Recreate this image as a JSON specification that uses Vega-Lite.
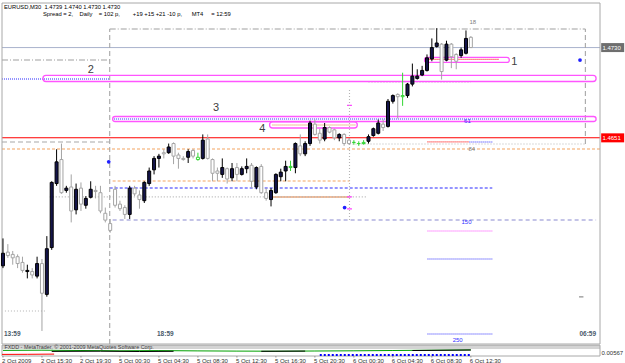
{
"$schema": "https://vega.github.io/schema/vega-lite/v6.json",
"background": "white",
"autosize": {"type": "fit", "contains": "padding"},
"padding": {"left": -3, "top": 2, "right": 0, "bottom": 0},
"width": 625,
"height": 363,
"config": {"view": {"stroke": null}, "font": "Liberation Sans"},
"datasets": {
"bars": [
{"i":0,"o":1.4539,"h":1.4563,"l":1.4537,"c":1.4550,"k":"up"},
{"i":1,"o":1.4551,"h":1.4558,"l":1.4546,"c":1.4548,"k":"dn"},
{"i":2,"o":1.4549,"h":1.4552,"l":1.4540,"c":1.4546,"k":"dn"},
{"i":3,"o":1.4547,"h":1.4549,"l":1.4537,"c":1.4541,"k":"dn"},
{"i":4,"o":1.4542,"h":1.4547,"l":1.4533,"c":1.4535,"k":"dn"},
{"i":5,"o":1.4534,"h":1.4540,"l":1.4528,"c":1.4535,"k":"up"},
{"i":6,"o":1.4534,"h":1.4537,"l":1.4528,"c":1.4531,"k":"dn"},
{"i":7,"o":1.4530,"h":1.4547,"l":1.4528,"c":1.4541,"k":"up"},
{"i":8,"o":1.4541,"h":1.4545,"l":1.4482,"c":1.4515,"k":"dn"},
{"i":9,"o":1.4514,"h":1.4565,"l":1.4512,"c":1.4554,"k":"up"},
{"i":10,"o":1.4555,"h":1.4613,"l":1.4553,"c":1.4612,"k":"up"},
{"i":11,"o":1.4611,"h":1.4641,"l":1.4609,"c":1.4630,"k":"up"},
{"i":12,"o":1.4632,"h":1.4646,"l":1.4602,"c":1.4603,"k":"dn"},
{"i":13,"o":1.4605,"h":1.4609,"l":1.4603,"c":1.4607,"k":"up"},
{"i":14,"o":1.4608,"h":1.4619,"l":1.4577,"c":1.4587,"k":"dn"},
{"i":15,"o":1.4588,"h":1.4611,"l":1.4584,"c":1.4606,"k":"up"},
{"i":16,"o":1.4607,"h":1.4612,"l":1.4587,"c":1.4593,"k":"dn"},
{"i":17,"o":1.4592,"h":1.4600,"l":1.4589,"c":1.4598,"k":"up"},
{"i":18,"o":1.4599,"h":1.4613,"l":1.4598,"c":1.4606,"k":"up"},
{"i":19,"o":1.4605,"h":1.4609,"l":1.4598,"c":1.4604,"k":"dn"},
{"i":20,"o":1.4603,"h":1.4609,"l":1.4585,"c":1.4587,"k":"dn"},
{"i":21,"o":1.4585,"h":1.4590,"l":1.4577,"c":1.4579,"k":"dn"},
{"i":22,"o":1.4576,"h":1.4580,"l":1.4568,"c":1.4570,"k":"dn"},
{"i":23,"o":1.4606,"h":1.4609,"l":1.4590,"c":1.4592,"k":"dn"},
{"i":24,"o":1.4593,"h":1.4596,"l":1.4587,"c":1.4589,"k":"dn"},
{"i":25,"o":1.4590,"h":1.4592,"l":1.4580,"c":1.4584,"k":"dn"},
{"i":26,"o":1.4584,"h":1.4609,"l":1.4580,"c":1.4607,"k":"up"},
{"i":27,"o":1.4607,"h":1.4609,"l":1.4600,"c":1.4602,"k":"dn"},
{"i":28,"o":1.4601,"h":1.4605,"l":1.4589,"c":1.4597,"k":"dn"},
{"i":29,"o":1.4596,"h":1.4613,"l":1.4594,"c":1.4612,"k":"up"},
{"i":30,"o":1.4611,"h":1.4625,"l":1.4609,"c":1.4622,"k":"up"},
{"i":31,"o":1.4623,"h":1.4635,"l":1.4619,"c":1.4633,"k":"up"},
{"i":32,"o":1.4633,"h":1.4637,"l":1.4625,"c":1.4635,"k":"up"},
{"i":33,"o":1.4638,"h":1.4641,"l":1.4633,"c":1.4637,"k":"dn"},
{"i":34,"o":1.4638,"h":1.4646,"l":1.4637,"c":1.4643,"k":"up"},
{"i":35,"o":1.4646,"h":1.4647,"l":1.4628,"c":1.4635,"k":"dn"},
{"i":36,"o":1.4636,"h":1.4638,"l":1.4624,"c":1.4633,"k":"dn"},
{"i":37,"o":1.4633,"h":1.4635,"l":1.4631,"c":1.4632,"k":"dn"},
{"i":38,"o":1.4634,"h":1.4641,"l":1.4629,"c":1.4639,"k":"up"},
{"i":39,"o":1.4640,"h":1.4641,"l":1.4633,"c":1.4635,"k":"dn"},
{"i":40,"o":1.4634,"h":1.4638,"l":1.4631,"c":1.4632,"k":"mk"},
{"i":41,"o":1.4633,"h":1.4654,"l":1.4632,"c":1.4649,"k":"up"},
{"i":42,"o":1.4650,"h":1.4654,"l":1.4632,"c":1.4633,"k":"dn"},
{"i":43,"o":1.4632,"h":1.4633,"l":1.4613,"c":1.4620,"k":"dn"},
{"i":44,"o":1.4622,"h":1.4625,"l":1.4613,"c":1.4620,"k":"dn"},
{"i":45,"o":1.4619,"h":1.4633,"l":1.4616,"c":1.4625,"k":"up"},
{"i":46,"o":1.4624,"h":1.4625,"l":1.4611,"c":1.4615,"k":"dn"},
{"i":47,"o":1.4616,"h":1.4629,"l":1.4613,"c":1.4624,"k":"up"},
{"i":48,"o":1.4625,"h":1.4629,"l":1.4613,"c":1.4619,"k":"dn"},
{"i":49,"o":1.4619,"h":1.4626,"l":1.4618,"c":1.4624,"k":"up"},
{"i":50,"o":1.4624,"h":1.4633,"l":1.4620,"c":1.4626,"k":"up"},
{"i":51,"o":1.4627,"h":1.4629,"l":1.4607,"c":1.4613,"k":"dn"},
{"i":52,"o":1.4608,"h":1.4626,"l":1.4606,"c":1.4625,"k":"up"},
{"i":53,"o":1.4626,"h":1.4628,"l":1.4602,"c":1.4603,"k":"dn"},
{"i":54,"o":1.4603,"h":1.4607,"l":1.4596,"c":1.4598,"k":"dn"},
{"i":55,"o":1.4597,"h":1.4607,"l":1.4591,"c":1.4605,"k":"up"},
{"i":56,"o":1.4603,"h":1.4620,"l":1.4602,"c":1.4619,"k":"up"},
{"i":57,"o":1.4617,"h":1.4624,"l":1.4613,"c":1.4621,"k":"up"},
{"i":58,"o":1.4622,"h":1.4631,"l":1.4613,"c":1.4626,"k":"up"},
{"i":59,"o":1.4626,"h":1.4631,"l":1.4622,"c":1.4625,"k":"mk"},
{"i":60,"o":1.4625,"h":1.4647,"l":1.4620,"c":1.4646,"k":"up"},
{"i":61,"o":1.4644,"h":1.4654,"l":1.4635,"c":1.4637,"k":"dn"},
{"i":62,"o":1.4637,"h":1.4648,"l":1.4635,"c":1.4646,"k":"up"},
{"i":63,"o":1.4646,"h":1.4666,"l":1.4644,"c":1.4664,"k":"up"},
{"i":64,"o":1.4663,"h":1.4667,"l":1.4653,"c":1.4654,"k":"dn"},
{"i":65,"o":1.4655,"h":1.4659,"l":1.4646,"c":1.4649,"k":"dn"},
{"i":66,"o":1.4650,"h":1.4664,"l":1.4648,"c":1.4660,"k":"up"},
{"i":67,"o":1.4660,"h":1.4661,"l":1.4655,"c":1.4656,"k":"dn"},
{"i":68,"o":1.4658,"h":1.4659,"l":1.4649,"c":1.4651,"k":"dn"},
{"i":69,"o":1.4651,"h":1.4655,"l":1.4648,"c":1.4654,"k":"up"},
{"i":70,"o":1.4654,"h":1.4655,"l":1.4644,"c":1.4646,"k":"dn"},
{"i":71,"o":1.4649,"h":1.4651,"l":1.4645,"c":1.4646,"k":"dn"},
{"i":72,"o":1.4647,"h":1.4649,"l":1.4645,"c":1.4647,"k":"mk"},
{"i":73,"o":1.4646,"h":1.4648,"l":1.4644,"c":1.4646,"k":"mk"},
{"i":74,"o":1.4647,"h":1.4649,"l":1.4645,"c":1.4646,"k":"mk"},
{"i":75,"o":1.4648,"h":1.4654,"l":1.4646,"c":1.4652,"k":"up"},
{"i":76,"o":1.4653,"h":1.4660,"l":1.4652,"c":1.4659,"k":"up"},
{"i":77,"o":1.4655,"h":1.4667,"l":1.4654,"c":1.4664,"k":"up"},
{"i":78,"o":1.4663,"h":1.4667,"l":1.4657,"c":1.4660,"k":"dn"},
{"i":79,"o":1.4661,"h":1.4685,"l":1.4660,"c":1.4683,"k":"up"},
{"i":80,"o":1.4683,"h":1.4689,"l":1.4681,"c":1.4688,"k":"up"},
{"i":81,"o":1.4689,"h":1.4690,"l":1.4668,"c":1.4687,"k":"dn"},
{"i":82,"o":1.4688,"h":1.4708,"l":1.4679,"c":1.4687,"k":"mk"},
{"i":83,"o":1.4688,"h":1.4699,"l":1.4686,"c":1.4698,"k":"up"},
{"i":84,"o":1.4698,"h":1.4716,"l":1.4696,"c":1.4705,"k":"up"},
{"i":85,"o":1.4703,"h":1.4711,"l":1.4702,"c":1.4705,"k":"up"},
{"i":86,"o":1.4706,"h":1.4714,"l":1.4705,"c":1.4710,"k":"up"},
{"i":87,"o":1.4710,"h":1.4724,"l":1.4709,"c":1.4721,"k":"up"},
{"i":88,"o":1.4720,"h":1.4738,"l":1.4718,"c":1.4730,"k":"up"},
{"i":89,"o":1.4731,"h":1.4747,"l":1.4730,"c":1.4734,"k":"up"},
{"i":90,"o":1.4733,"h":1.4734,"l":1.4702,"c":1.4709,"k":"dn"},
{"i":91,"o":1.4719,"h":1.4736,"l":1.4718,"c":1.4733,"k":"up"},
{"i":92,"o":1.4733,"h":1.4734,"l":1.4712,"c":1.4722,"k":"dn"},
{"i":93,"o":1.4724,"h":1.4725,"l":1.4711,"c":1.4718,"k":"dn"},
{"i":94,"o":1.4723,"h":1.4730,"l":1.4721,"c":1.4728,"k":"up"},
{"i":95,"o":1.4725,"h":1.4745,"l":1.4724,"c":1.4738,"k":"up"},
{"i":96,"o":1.4739,"h":1.4740,"l":1.4730,"c":1.4730,"k":"dn"}
],
"hl": [
{"x1":-0.2,"x2":122.5,"y":1.4730,"lv":"bid"},
{"x1":-0.2,"x2":122.5,"y":1.4651,"lv":"red"},
{"x1":-0.2,"x2":122.5,"y":1.46413,"lv":"orange"},
{"x1":22.5,"x2":71.1,"y":1.46133,"lv":"orange"},
{"x1":55.1,"x2":71.1,"y":1.45993,"lv":"orangesolid"},
{"x1":55.3,"x2":72.3,"y":1.46623,"lv":"orangedot"},
{"x1":-0.2,"x2":21.9,"y":1.47025,"lv":"blue"},
{"x1":22.8,"x2":119.3,"y":1.46675,"lv":"blue"},
{"x1":21.9,"x2":100.4,"y":1.46071,"lv":"bluedash"},
{"x1":-0.2,"x2":21.9,"y":1.47191,"lv":"graydashdot"},
{"x1":21.9,"x2":119.5,"y":1.47463,"lv":"graydashdot"},
{"x1":-0.2,"x2":21.9,"y":1.46474,"lv":"graydash"},
{"x1":71.1,"x2":119.7,"y":1.46456,"lv":"graydot"},
{"x1":9.6,"x2":74.6,"y":1.45993,"lv":"graydot"},
{"x1":0.4,"x2":8.6,"y":1.44995,"lv":"graydot"},
{"x1":75,"x2":96,"y":1.46999,"lv":"graydot"},
{"x1":22.5,"x2":121.7,"y":1.45791,"lv":"fibo"},
{"x1":87.1,"x2":95.7,"y":1.46474,"lv":"reddot"},
{"x1":95.7,"x2":100.4,"y":1.46474,"lv":"blue"},
{"x1":87.1,"x2":101.8,"y":1.47196,"lv":"reddot"},
{"x1":87.1,"x2":100.4,"y":1.45695,"lv":"magdot"},
{"x1":87.1,"x2":100.4,"y":1.4545,"lv":"blue"},
{"x1":87.1,"x2":100.4,"y":1.44794,"lv":"blue"},
{"x1":70.6,"x2":71.6,"y":1.46794,"lv":"magtick"},
{"x1":70.6,"x2":71.6,"y":1.45993,"lv":"magtick"},
{"x1":70.6,"x2":71.6,"y":1.45888,"lv":"magtick"},
{"x1":118.2,"x2":119.1,"y":1.45118,"lv":"graysolid"}
],
"vl": [
{"x":21.9,"y1":1.44706,"y2":1.47463,"lv":"graydash"},
{"x":119.5,"y1":1.46456,"y2":1.47463,"lv":"graydash"},
{"x":71.1,"y1":1.45791,"y2":1.46938,"lv":"graydot"}
],
"caps": [
{"x1":86.5,"x2":103.9,"y1":1.4717,"y2":1.47214},
{"x1":8.2,"x2":121.7,"y1":1.47003,"y2":1.47056},
{"x1":22.5,"x2":121.7,"y1":1.46653,"y2":1.46697},
{"x1":54.7,"x2":72.7,"y1":1.46596,"y2":1.46649}
],
"frame": [{"x1":-0.2,"x2":122.5,"y1":1.44706,"y2":1.4769}],
"dots": [{"i":118.4,"p":1.47191},{"i":21.7,"p":1.4630},{"i":70.1,"p":1.4590}],
"bignum": [{"i":104.9,"p":1.4717,"t":"1"},{"i":18.0,"p":1.4710,"t":"2"},{"i":43.7,"p":1.4677,"t":"3"},{"i":53.2,"p":1.4659,"t":"4"}],
"graynote": [{"i":96.4,"p":1.4752,"t":"18"},{"i":96.2,"p":1.4641,"t":"84"}],
"bluenote": [{"i":95.3,"p":1.4666,"t":"61"},{"i":95.1,"p":1.4577,"t":"150"},{"i":93.3,"p":1.44741,"t":"250"}],
"sessL": [{"i":0.2,"p":1.44794,"t":"13:59"},{"i":31.6,"p":1.44794,"t":"18:59"}],
"sessR": [{"i":121.7,"p":1.44794,"t":"06:59"}],
"header": [
{"i":0.2,"p":1.47655,"t":"EURUSD,M30\u00a0 1.4739 1.4740 1.4730 1.4730"},
{"i":8.2,"p":1.47592,"t":"Spread = 2,\u00a0\u00a0\u00a0\u00a0Daily\u00a0\u00a0\u00a0\u00a0= 102 p,\u00a0\u00a0\u00a0\u00a0\u00a0\u00a0\u00a0\u00a0+19 +15 +21 -10 p,\u00a0\u00a0\u00a0\u00a0\u00a0\u00a0MT4\u00a0\u00a0\u00a0\u00a0\u00a0= 12:59"}
],
"boxes": [{"p":1.4730,"t":"1.4730","k":"bid"},{"p":1.4651,"t":"1.4651","k":"red"}],
"subband": [{"x1":-0.2,"x2":122.5,"y1":0.0070,"y2":0.0108}],
"subframe": [{"x1":-0.2,"x2":122.5,"y1":0.0,"y2":0.0108}],
"subnote": [{"i":0.3,"v":0.0089,"t":"FXDD - MetaTrader, \u00a9 2001-2009 MetaQuotes Software Corp."}],
"subscale": [{"i":122.8,"v":0.0030,"t":"0.00567"}],
"xlab": [
{"i":0,"t":"2 Oct 2009"},{"i":8,"t":"2 Oct 15:30"},{"i":16,"t":"2 Oct 19:30"},{"i":24,"t":"5 Oct 00:30"},{"i":32,"t":"5 Oct 04:30"},{"i":40,"t":"5 Oct 08:30"},{"i":48,"t":"5 Oct 12:30"},{"i":56,"t":"5 Oct 16:30"},{"i":64,"t":"5 Oct 20:30"},{"i":72,"t":"6 Oct 00:30"},{"i":80,"t":"6 Oct 04:30"},{"i":88,"t":"6 Oct 08:30"},{"i":96,"t":"6 Oct 12:30"}
],
"sub": [
{"i":0,"v":0.0056,"s":"g","seg":1},{"i":8,"v":0.0058,"s":"g","seg":1},{"i":16,"v":0.0055,"s":"g","seg":1},{"i":24,"v":0.0052,"s":"g","seg":1},{"i":32,"v":0.0054,"s":"g","seg":1},{"i":40,"v":0.0051,"s":"g","seg":1},{"i":48,"v":0.0049,"s":"g","seg":1},{"i":56,"v":0.0048,"s":"g","seg":1},{"i":64,"v":0.0050,"s":"g","seg":1},{"i":72,"v":0.0052,"s":"g","seg":1},{"i":80,"v":0.0055,"s":"g","seg":1},{"i":88,"v":0.0058,"s":"g","seg":1},{"i":96,"v":0.0061,"s":"g","seg":1},
{"i":10,"v":0.0046,"s":"b","seg":1},{"i":20,"v":0.0048,"s":"b","seg":1},{"i":28,"v":0.0045,"s":"b","seg":1},{"i":35,"v":0.0047,"s":"b","seg":1},
{"i":53,"v":0.0047,"s":"b","seg":2},{"i":62,"v":0.0049,"s":"b","seg":2},
{"i":84,"v":0.0055,"s":"b","seg":3},{"i":96,"v":0.0060,"s":"b","seg":3},
{"i":-0.2,"v":0.0016,"s":"r","seg":1},{"i":5,"v":0.0017,"s":"r","seg":1},{"i":10.5,"v":0.0019,"s":"r","seg":1},
{"i":65,"v":0.0010,"s":"d","seg":1},{"i":80,"v":0.0010,"s":"d","seg":1},{"i":96,"v":0.0011,"s":"d","seg":1}
]
},
"layer": [
{
"layer": [
{"data":{"name":"hl"},"mark":{"type":"rule","clip":true},
 "encoding":{
  "x":{"field":"x1","type":"quantitative","scale":{"domain":[-0.2,122.5],"nice":false,"zero":false},"axis":null},
  "x2":{"field":"x2"},
  "y":{"field":"y","type":"quantitative","scale":{"domain":[1.44706,1.4769],"range":[341,0],"nice":false,"zero":false},
       "axis":{"title":null,"orient":"right","values":[1.4475,1.4495,1.4515,1.4535,1.4555,1.4575,1.4595,1.4615,1.4635,1.4655,1.4675,1.4695,1.4715,1.4735,1.4755],"format":".4f","labelFontSize":6,"labelColor":"#303030","tickSize":2,"tickColor":"#909090","domainColor":"#a8a8a8","labelPadding":1,"grid":false}},
  "color":{"field":"lv","type":"nominal","legend":null,"scale":{"domain":["bid","red","orange","orangesolid","orangedot","blue","bluedash","graydashdot","graydash","graydot","graysolid","fibo","reddot","magdot","magtick"],"range":["#a9b3cc","#ff0000","#f4a460","#e07b39","#e07b39","#2b2bff","#2b2bff","#a0a0a0","#a8a8a8","#b4b4b4","#909090","#8a8ad0","#ff2020","#ff40ff","#ff40ff"]}},
  "strokeDash":{"field":"lv","type":"nominal","legend":null,"scale":{"domain":["bid","red","orange","orangesolid","orangedot","blue","bluedash","graydashdot","graydash","graydot","graysolid","fibo","reddot","magdot","magtick"],"range":[[1,0],[1,0],[3,2],[1,0],[1,1],[1,1],[3,2],[6,2,1,2],[5,3],[1,2],[1,0],[4,3],[1,1],[1,1],[1,0]]}},
  "strokeWidth":{"field":"lv","type":"nominal","legend":null,"scale":{"domain":["bid","red","orange","orangesolid","orangedot","blue","bluedash","graydashdot","graydash","graydot","graysolid","fibo","reddot","magdot","magtick"],"range":[1,1.2,1,1,1,1,1,1,1,1,1,1,1,1,2]}}
 }},
{"data":{"name":"frame"},"mark":{"type":"rect","filled":false,"stroke":"#a8a8a8","strokeWidth":1},
 "encoding":{"x":{"field":"x1","type":"quantitative","axis":null},"x2":{"field":"x2"},"y":{"field":"y1","type":"quantitative","axis":null},"y2":{"field":"y2"}}},
{"data":{"name":"vl"},"mark":{"type":"rule","clip":true},
 "encoding":{
  "x":{"field":"x","type":"quantitative","axis":null},
  "y":{"field":"y1","type":"quantitative","axis":null},
  "y2":{"field":"y2"},
  "color":{"field":"lv","type":"nominal","legend":null},
  "strokeDash":{"field":"lv","type":"nominal","legend":null},
  "strokeWidth":{"field":"lv","type":"nominal","legend":null}
 }},
{"data":{"name":"caps"},"mark":{"type":"rect","filled":false,"stroke":"#ff55ff","strokeWidth":1.3,"cornerRadius":3,"clip":true},
 "encoding":{
  "x":{"field":"x1","type":"quantitative","axis":null},"x2":{"field":"x2"},
  "y":{"field":"y1","type":"quantitative","axis":null},"y2":{"field":"y2"}
 }},
{"data":{"name":"bars"},"mark":{"type":"rule","clip":true,"strokeWidth":1},
 "encoding":{
  "x":{"field":"i","type":"quantitative","axis":null},
  "y":{"field":"l","type":"quantitative","axis":null},"y2":{"field":"h"},
  "stroke":{"field":"k","type":"nominal","legend":null,"scale":{"domain":["up","dn","mk"],"range":["#000000","#a4a4a4","#33d633"]}}
 }},
{"data":{"name":"bars"},"mark":{"type":"bar","width":3,"strokeWidth":1,"clip":true},
 "encoding":{
  "x":{"field":"i","type":"quantitative","axis":null},
  "y":{"field":"o","type":"quantitative","axis":null},"y2":{"field":"c"},
  "fill":{"field":"k","type":"nominal","legend":null,"scale":{"domain":["up","dn","mk"],"range":["#14144a","#ffffff","#ffffff"]}},
  "stroke":{"field":"k","type":"nominal","legend":null}
 }},
{"data":{"name":"dots"},"mark":{"type":"point","filled":true,"color":"#2020ff","size":14,"opacity":1},
 "encoding":{"x":{"field":"i","type":"quantitative","axis":null},"y":{"field":"p","type":"quantitative","axis":null}}},
{"data":{"name":"bignum"},"mark":{"type":"text","fontSize":11,"color":"#404040","align":"center","baseline":"middle"},
 "encoding":{"x":{"field":"i","type":"quantitative","axis":null},"y":{"field":"p","type":"quantitative","axis":null},"text":{"field":"t"}}},
{"data":{"name":"graynote"},"mark":{"type":"text","fontSize":6,"color":"#808080","align":"center","baseline":"middle"},
 "encoding":{"x":{"field":"i","type":"quantitative","axis":null},"y":{"field":"p","type":"quantitative","axis":null},"text":{"field":"t"}}},
{"data":{"name":"bluenote"},"mark":{"type":"text","fontSize":6,"color":"#3030ff","align":"center","baseline":"middle"},
 "encoding":{"x":{"field":"i","type":"quantitative","axis":null},"y":{"field":"p","type":"quantitative","axis":null},"text":{"field":"t"}}},
{"data":{"name":"sessL"},"mark":{"type":"text","fontSize":6.5,"fontWeight":"bold","color":"#4a5a6a","align":"left","baseline":"middle"},
 "encoding":{"x":{"field":"i","type":"quantitative","axis":null},"y":{"field":"p","type":"quantitative","axis":null},"text":{"field":"t"}}},
{"data":{"name":"sessR"},"mark":{"type":"text","fontSize":6.5,"fontWeight":"bold","color":"#4a5a6a","align":"right","baseline":"middle"},
 "encoding":{"x":{"field":"i","type":"quantitative","axis":null},"y":{"field":"p","type":"quantitative","axis":null},"text":{"field":"t"}}},
{"data":{"name":"header"},"mark":{"type":"text","fontSize":5.8,"color":"#000000","align":"left","baseline":"middle"},
 "encoding":{"x":{"field":"i","type":"quantitative","axis":null},"y":{"field":"p","type":"quantitative","axis":null},"text":{"field":"t"}}},
{"data":{"name":"boxes"},"transform":[{"filter":"datum.k == 'bid'"}],"mark":{"type":"tick","orient":"horizontal","size":23,"thickness":9,"color":"#6e6e6e","opacity":1},
 "encoding":{"x":{"datum":125.1,"type":"quantitative","axis":null},"y":{"field":"p","type":"quantitative","axis":null}}},
{"data":{"name":"boxes"},"transform":[{"filter":"datum.k == 'red'"}],"mark":{"type":"tick","orient":"horizontal","size":23,"thickness":9,"color":"#ff0000","opacity":1},
 "encoding":{"x":{"datum":125.1,"type":"quantitative","axis":null},"y":{"field":"p","type":"quantitative","axis":null}}},
{"data":{"name":"boxes"},"mark":{"type":"text","fontSize":6,"color":"#ffffff","align":"left","baseline":"middle"},
 "encoding":{"x":{"datum":123.0,"type":"quantitative","axis":null},"y":{"field":"p","type":"quantitative","axis":null},"text":{"field":"t"}}}
]
},
{
"layer": [
{"data":{"name":"subband"},"mark":{"type":"rect","color":"#d4d4d4"},
 "encoding":{"x":{"field":"x1","type":"quantitative","axis":null},"x2":{"field":"x2"},
  "y":{"field":"y1","type":"quantitative","axis":null,"scale":{"domain":[0,0.0070],"range":[353,346],"nice":false,"zero":false}},"y2":{"field":"y2"}}},
{"data":{"name":"subframe"},"mark":{"type":"rect","filled":false,"stroke":"#a8a8a8","strokeWidth":1},
 "encoding":{"x":{"field":"x1","type":"quantitative","axis":null},"x2":{"field":"x2"},"y":{"field":"y1","type":"quantitative","axis":null},"y2":{"field":"y2"}}},
{"data":{"name":"sub"},"transform":[{"filter":"datum.s == 'g'"}],"mark":{"type":"line","color":"#00a000","strokeWidth":1},
 "encoding":{"x":{"field":"i","type":"quantitative","axis":null},"y":{"field":"v","type":"quantitative","axis":null},"detail":{"field":"seg"}}},
{"data":{"name":"sub"},"transform":[{"filter":"datum.s == 'b'"}],"mark":{"type":"line","color":"#000000","strokeWidth":1},
 "encoding":{"x":{"field":"i","type":"quantitative","axis":null},"y":{"field":"v","type":"quantitative","axis":null},"detail":{"field":"seg"}}},
{"data":{"name":"sub"},"transform":[{"filter":"datum.s == 'r'"}],"mark":{"type":"line","color":"#ff0000","strokeWidth":1},
 "encoding":{"x":{"field":"i","type":"quantitative","axis":null},"y":{"field":"v","type":"quantitative","axis":null},"detail":{"field":"seg"}}},
{"data":{"name":"sub"},"transform":[{"filter":"datum.s == 'd'"}],"mark":{"type":"line","color":"#0000ff","strokeWidth":2,"strokeDash":[2,2]},
 "encoding":{"x":{"field":"i","type":"quantitative","axis":null},"y":{"field":"v","type":"quantitative","axis":null},"detail":{"field":"seg"}}},
{"data":{"name":"subnote"},"mark":{"type":"text","fontSize":5.4,"color":"#404040","align":"left","baseline":"middle"},
 "encoding":{"x":{"field":"i","type":"quantitative","axis":null},"y":{"field":"v","type":"quantitative","axis":null},"text":{"field":"t"}}},
{"data":{"name":"subscale"},"mark":{"type":"text","fontSize":6,"color":"#303030","align":"left","baseline":"middle"},
 "encoding":{"x":{"field":"i","type":"quantitative","axis":null},"y":{"field":"v","type":"quantitative","axis":null},"text":{"field":"t"}}},
{"data":{"name":"xlab"},"mark":{"type":"rule","color":"#909090","strokeWidth":1},
 "encoding":{"x":{"field":"i","type":"quantitative","axis":null},"y":{"datum":0,"type":"quantitative","axis":null},"y2":{"datum":-0.0015}}},
{"data":{"name":"xlab"},"mark":{"type":"text","fontSize":6,"color":"#303030","align":"left","baseline":"middle","dx":-1},
 "encoding":{"x":{"field":"i","type":"quantitative","axis":null},"y":{"datum":-0.0050,"type":"quantitative","axis":null},"text":{"field":"t"}}}
]
}
],
"resolve": {"scale": {"y": "independent"}, "axis": {"y": "independent"}}
}
